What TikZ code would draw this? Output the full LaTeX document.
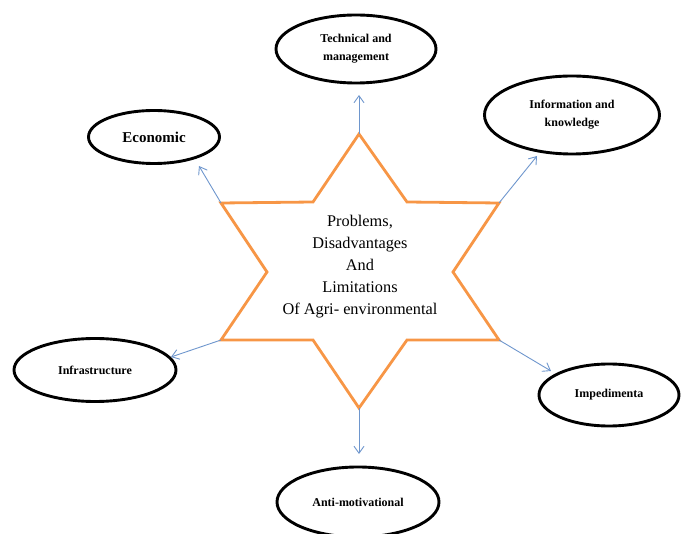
\documentclass[tikz,border=0pt]{standalone}
\usepackage{fontspec}
\setmainfont{Liberation Serif}
\usetikzlibrary{shapes.geometric,arrows.meta}
\definecolor{starorange}{RGB}{247,150,70}
\definecolor{arrowblue}{RGB}{110,150,205}
\begin{document}
\begin{tikzpicture}[x=1pt,y=-1pt,
  oval/.style={ellipse,draw=black,line width=2.9pt,inner sep=0pt,align=center,
    font=\bfseries\fontsize{12}{18}\selectfont},
  link/.style={draw=arrowblue,line width=0.9pt,-{Straight Barb[length=7pt,width=10pt]}}]
\useasboundingbox (0,0) rectangle (683,534);
\clip (0,0) rectangle (683,534);
% star vertices
\coordinate (top) at (359,134);
\coordinate (uir) at (407,202);
\coordinate (uor) at (499,203);
\coordinate (ri)  at (453,272);
\coordinate (lor) at (499,340);
\coordinate (lir) at (407,340);
\coordinate (bot) at (359,408);
\coordinate (lil) at (313,340);
\coordinate (lol) at (221,340);
\coordinate (li)  at (267,272);
\coordinate (uol) at (221,203);
\coordinate (uil) at (313,202);
\draw[starorange,line width=2.8pt,line join=miter]
  (top) -- (uir) -- (uor) -- (ri) -- (lor) -- (lir) -- (bot) -- (lil) -- (lol) -- (li) -- (uol) -- (uil) -- cycle;
\node[align=center,font=\fontsize{16.3}{22}\selectfont] (centre) at (360,267)
  {Problems,\\Disadvantages\\And\\Limitations\\Of Agri- environmental};
% ellipses
\node[oval,minimum width=131pt,minimum height=53pt,font=\bfseries\fontsize{15}{18}\selectfont] (econ) at (154,137) {Economic};
\node[oval,minimum width=160pt,minimum height=68pt] (tech) at (356,49) {Technical and\\management};
\node[oval,minimum width=175pt,minimum height=78pt] (info) at (572,115) {Information and\\knowledge};
\node[oval,minimum width=162pt,minimum height=63pt] (infra) at (95,370) {Infrastructure};
\node[oval,minimum width=140pt,minimum height=62pt] (imped) at (609,395) {Impedimenta};
\node[oval,minimum width=162pt,minimum height=70pt] (anti) at (358,502) {Anti-motivational};
% arrow ends
\coordinate (e1) at (199,166);
\coordinate (e2) at (359,95);
\coordinate (e3) at (537,156);
\coordinate (e4) at (171,357);
\coordinate (e5) at (551,371);
\coordinate (e6) at (359,454);
\draw[link] (uol) -- (e1);
\draw[link] (top) -- (e2);
\draw[link] (uor) -- (e3);
\draw[link] (lol) -- (e4);
\draw[link] (lor) -- (e5);
\draw[link] (bot) -- (e6);
\end{tikzpicture}
\end{document}
